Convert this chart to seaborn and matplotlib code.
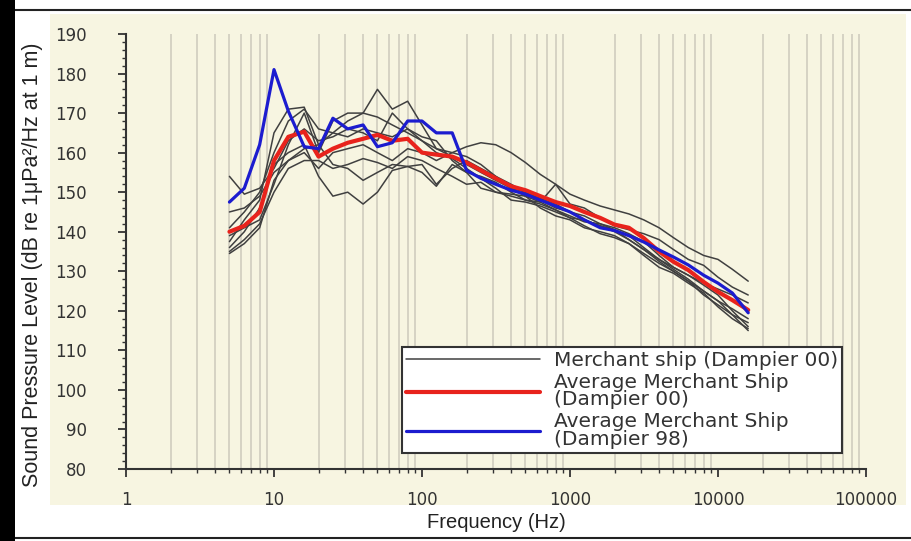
import matplotlib
matplotlib.use("Agg")
import matplotlib.pyplot as plt
import matplotlib.ticker as mticker
from matplotlib.patches import Rectangle
from matplotlib.lines import Line2D
import seaborn as sns
import pandas as pd
import numpy as np

# third-octave band centre frequencies (Hz)
freq = [5, 6.3, 8, 10, 12.5, 16, 20, 25, 31.5, 40, 50, 63, 80, 100, 125, 160, 200, 250,
        315, 400, 500, 630, 800, 1000, 1250, 1600, 2000, 2500, 3150, 4000, 5000, 6300,
        8000, 10000, 12500, 16000]

# individual merchant ships (Dampier 00)
ship_a = [141, 145, 150, 160, 168, 171, 166, 165, 168, 170, 176, 171, 173, 167, 161, 159, 157, 155,
          153, 151, 150, 148.5, 147, 145, 144, 142, 140.5, 139, 136, 133, 131, 129, 126.5, 124, 120, 116]
ship_b = [137.5, 143, 148, 165, 171, 171.5, 162, 157, 156, 153, 155, 157, 156.5, 157, 152, 156, 158, 156,
          154, 152, 150, 148, 146, 145, 143, 141.5, 140, 138, 135.5, 133, 130.5, 128, 125, 122.5, 119, 115]
ship_c = [136, 140, 146, 157, 160, 162, 154, 149, 150, 147, 150, 155.5, 156.5, 155, 151.5, 157, 155, 151,
          150, 149.5, 149, 146, 144, 143, 141, 140, 139, 137, 134.5, 132, 130, 127.5, 124, 121.5, 119, 117]
ship_d = [145, 146, 149, 155, 158, 160, 156, 160, 161, 162, 160, 158, 161, 160, 158, 160, 161.5, 162.5,
          162, 160, 157.5, 154.5, 152, 149.5, 148, 146.5, 145.5, 144.5, 143, 141, 138.5, 136, 134, 133, 130.5, 127.5]
ship_e = [154, 149.5, 151, 156, 163, 166, 163, 164, 166, 165, 163, 170, 166, 164, 163, 158, 155, 154,
          152.5, 150, 148, 147.5, 152, 147, 146, 143.5, 141.5, 140.5, 139.5, 138, 135.5, 133, 131.5, 128.5, 126, 124]
ship_f = [139, 141, 143, 152, 162, 170, 160, 168, 170, 170, 169, 167, 165, 163, 160, 158.5, 156, 153.5,
          151, 148, 147.5, 146.5, 145, 143.5, 143, 141.5, 140.5, 138, 135.5, 132.5, 130, 127.5, 125, 122.5, 120.5, 118]
ship_g = [135, 138, 142, 150, 156, 158, 158, 156, 157, 158.5, 157.5, 156, 159, 158, 156, 154, 152, 152.5,
          150, 149, 148, 147, 145.5, 144, 142.5, 142, 141, 139.5, 137.5, 134, 131, 129, 127, 125.5, 124, 122]
ship_h = [134.5, 137, 141, 153, 158, 161, 162, 165, 164, 166, 165, 164, 166, 163, 161, 160, 159, 157,
          154, 151, 149, 147.5, 145.5, 143.5, 141.5, 139.5, 138.5, 137, 134, 131, 129.5, 127, 124.5, 121, 118, 115.5]
ships = [ship_a, ship_b, ship_c, ship_d, ship_e, ship_f, ship_g, ship_h]

avg_00 = [140, 141.5, 145, 158, 164, 165.3, 159, 161, 162.5, 163.5, 164.5, 163, 163.5, 160, 159.5, 159, 157.5, 155.5,
          153.5, 151.5, 150.5, 149, 147.5, 146.5, 145, 143.5, 141.8, 141, 138.4, 135, 132.4, 130.3, 127.3, 124.8, 122.7, 120.2]
avg_98 = [147.5, 151, 162, 181, 170.5, 161.5, 161, 168.7, 166, 167, 161.5, 162.5, 168, 168, 165, 165, 155.5, 153.5,
          152, 150.5, 149.5, 148, 146.5, 145, 143, 141, 140.3, 139, 137.4, 135.4, 133.6, 131.6, 129, 127, 124.5, 119.5]

labels = ["Merchant ship (Dampier 00)",
          "Average Merchant Ship\n(Dampier 00)",
          "Average Merchant Ship\n(Dampier 98)"]

cream = "#f7f5e1"
W, H = 912, 541

sns.set_theme(style="white")
plt.rcParams["font.family"] = ["DejaVu Sans"]

fig = plt.figure(figsize=(W / 100, H / 100), dpi=100, facecolor="white")

# background panels / frame
fig.patches.append(Rectangle((50 / W, 1 - 505 / H), 856 / W, 491 / H, transform=fig.transFigure,
                             facecolor=cream, edgecolor="none", zorder=-10))
fig.patches.append(Rectangle((0, 0), 15 / W, 1, transform=fig.transFigure,
                             facecolor="black", edgecolor="none", zorder=-10))
fig.lines.append(Line2D([15 / W, 1], [1 - 10 / H, 1 - 10 / H], transform=fig.transFigure,
                        color="#222222", lw=1.5, zorder=-10))
fig.lines.append(Line2D([15 / W, 1], [1 - 538 / H, 1 - 538 / H], transform=fig.transFigure,
                        color="#222222", lw=1.5, zorder=-10))

ax = fig.add_axes([126 / W, 1 - 469 / H, 740 / W, 435 / H])
ax.set_facecolor(cream)

for i, s in enumerate(ships):
    sns.lineplot(x=freq, y=s, ax=ax, color="#404040", lw=1.1, label=labels[0] if i == 0 else None, zorder=2)
sns.lineplot(x=freq, y=avg_00, ax=ax, color="#e8231c", lw=3, label=labels[1], zorder=3)
sns.lineplot(x=freq, y=avg_98, ax=ax, color="#1c1ccf", lw=2.3, label=labels[2], zorder=4)

ax.set_xscale("log")
ax.set_xlim(1, 100000)
ax.set_ylim(80, 190)
ax.xaxis.set_major_locator(mticker.FixedLocator([1, 10, 100, 1000, 10000, 100000]))
ax.xaxis.set_major_formatter(mticker.FuncFormatter(lambda v, p: f"{v:.0f}"))
ax.xaxis.set_minor_locator(mticker.LogLocator(base=10, subs=np.arange(2, 10), numticks=20))
ax.xaxis.set_minor_formatter(mticker.NullFormatter())
ax.yaxis.set_major_locator(mticker.MultipleLocator(10))
ax.yaxis.set_minor_locator(mticker.MultipleLocator(2))

# vertical grid only at the 2..9 minor positions
ax.grid(False)
ax.grid(True, which="minor", axis="x", color="#d6d3c4", lw=1.4, zorder=0)

for side in ["top", "right"]:
    ax.spines[side].set_visible(False)
for side in ["left", "bottom"]:
    ax.spines[side].set_color("#333333")
    ax.spines[side].set_linewidth(1.5)

ax.tick_params(axis="both", which="major", direction="out", length=6, width=1.3, color="#333333",
               labelsize=12, labelcolor="#333333")
ax.tick_params(axis="both", which="minor", direction="out", length=3, width=1, color="#333333")
ax.tick_params(axis="y", which="major", pad=22)
ax.tick_params(axis="x", which="major", pad=10)
ax.tick_params(axis="both", which="both", left=True, bottom=True)

ax.set_xlabel("")
ax.set_ylabel("")
fig.text(496 / W, 1 - 522 / H, "Frequency (Hz)", ha="center", va="center", fontsize=14.5,
         family=["Liberation Sans", "DejaVu Sans"], color="#222222")
fig.text(33 / W, 1 - 265 / H, "Sound Pressure Level (dB re 1\u03bcPa\u00b2/Hz at 1 m)", ha="center", va="center",
         rotation=90, fontsize=15.5, family=["Liberation Sans", "DejaVu Sans"], color="#222222")

leg = ax.legend(loc="lower left", bbox_to_anchor=(0.373, 0.037), borderaxespad=0, fontsize=14.5,
                frameon=True, fancybox=False, handlelength=6.65, handletextpad=0.7, borderpad=0.2,
                labelspacing=0.15, facecolor="white", edgecolor="#333333", framealpha=1)
leg.get_frame().set_linewidth(1.5)
for t in leg.get_texts():
    t.set_color("#333333")
    t.set_linespacing(0.9)

fig.savefig("out.png", dpi=100, facecolor="white")
